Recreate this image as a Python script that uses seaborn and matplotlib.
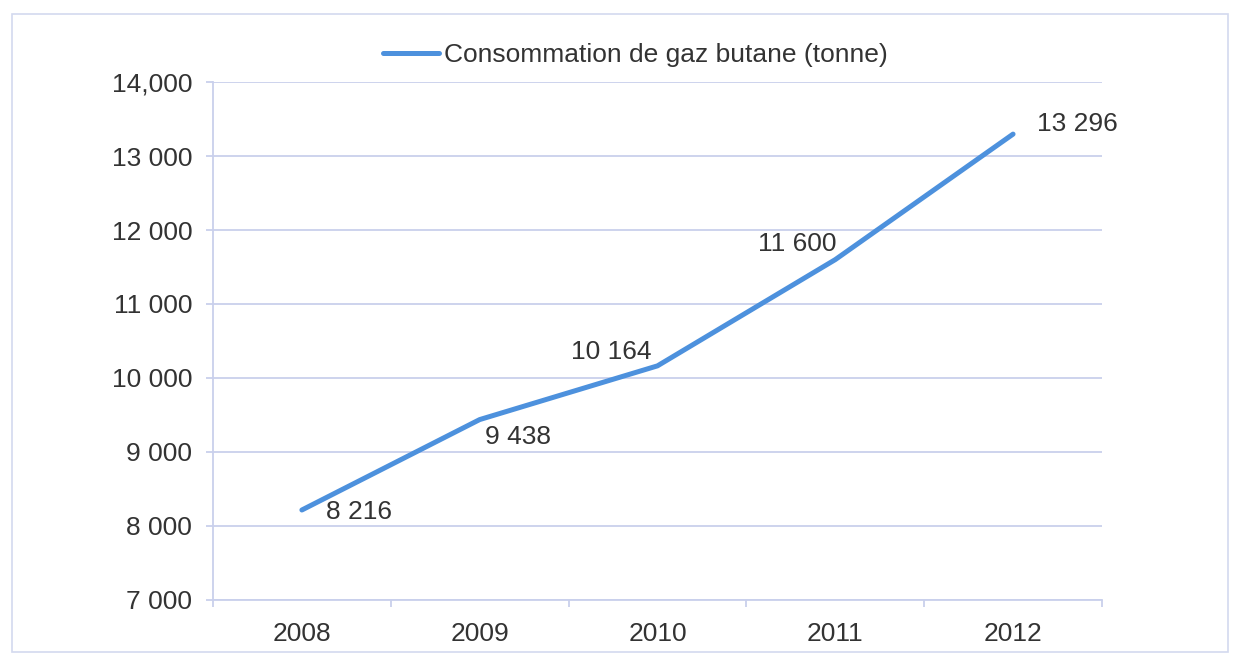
import matplotlib
matplotlib.use("Agg")
import matplotlib.pyplot as plt
from matplotlib.patches import Rectangle
from matplotlib.ticker import FixedLocator, FixedFormatter
import seaborn as sns
import pandas as pd

years = ["2008", "2009", "2010", "2011", "2012"]
consumption = [8216, 9438, 10164, 11600, 13296]
value_labels = ["8 216", "9 438", "10 164", "11 600", "13 296"]
y_ticks = [7000, 8000, 9000, 10000, 11000, 12000, 13000, 14000]
y_tick_labels = ["7 000", "8 000", "9 000", "10 000", "11 000", "12 000", "13 000", "14,000"]
series_name = "Consommation de gaz butane (tonne)"

sns.set_theme(style="white")
plt.rcParams["font.family"] = ["Liberation Sans", "DejaVu Sans"]

TEXT = "#333333"
GRID = "#c9d0ec"
LINE = "#4d91dd"
FS = 19

df = pd.DataFrame({"year": years, "value": consumption, "serie": series_name})

fig = plt.figure(figsize=(12.34, 6.53), dpi=100)
fig.patch.set_facecolor("white")
ax = fig.add_axes([0.1726, 0.0812, 0.7204, 0.7932])

sns.lineplot(data=df, x="year", y="value", hue="serie", palette=[LINE],
             linewidth=3.6, ax=ax, sort=False)

ax.set_xlim(-0.5, len(years) - 0.5)
ax.set_ylim(7000, 14000)
ax.yaxis.set_major_locator(FixedLocator(y_ticks))
ax.yaxis.set_major_formatter(FixedFormatter(y_tick_labels))
ax.set_xticks(range(len(years)))
ax.set_xticklabels(years)
ax.set_xticks([i - 0.5 for i in range(len(years) + 1)], minor=True)

ax.grid(axis="y", color=GRID, linewidth=1.3)
ax.set_axisbelow(True)
for side in ["top", "right"]:
    ax.spines[side].set_visible(False)
for side in ["left", "bottom"]:
    ax.spines[side].set_color(GRID)
    ax.spines[side].set_linewidth(1.3)

ax.tick_params(axis="y", which="major", left=True, length=5, width=1.3,
               color=GRID, labelsize=FS, labelcolor=TEXT, pad=10)
ax.tick_params(axis="x", which="major", bottom=False, labelsize=FS,
               labelcolor=TEXT, pad=10)
ax.tick_params(axis="x", which="minor", bottom=True, length=5, width=1.3,
               color=GRID)
ax.set_xlabel("")
ax.set_ylabel("")

# value labels next to each point
offsets = [(24, -2, "left"), (5, -17, "left"), (-6, 14, "right"),
           (1, 16, "right"), (24, 10, "left")]
for i, (val, lab) in enumerate(zip(consumption, value_labels)):
    dx, dy, ha = offsets[i]
    ax.annotate(lab, (i, val), xytext=(dx, dy), textcoords="offset pixels",
                ha=ha, va="center", fontsize=FS, color=TEXT)

leg = ax.legend(loc="center", bbox_to_anchor=(0.515, 0.916),
                bbox_transform=fig.transFigure, frameon=False,
                fontsize=FS, handlelength=2.1, handletextpad=0.2)
for t in leg.get_texts():
    t.set_color(TEXT)

# outer chart frame
fig.patches.append(Rectangle((12 / 1234, 1 - 652 / 653), 1216 / 1234, 638 / 653,
                             transform=fig.transFigure, fill=False,
                             edgecolor="#d3d9ef", linewidth=1.2))

fig.savefig("out.png", dpi=100, facecolor="white")
